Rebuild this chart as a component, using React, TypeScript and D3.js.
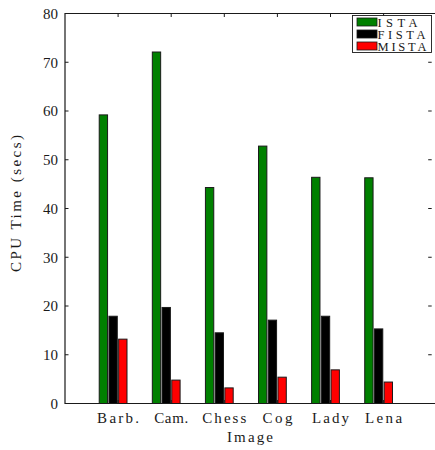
import React from "react";
import * as d3 from "d3";

const categories = ["Barb.", "Cam.", "Chess", "Cog", "Lady", "Lena"];
const categoryWidths = [42, 34, 44, 30, 37, 37];
const seriesNames = ["ISTA", "FISTA", "MISTA"];
const istaValues = [59.2, 72.1, 44.3, 52.8, 46.4, 46.3];
const fistaValues = [17.9, 19.7, 14.5, 17.1, 17.9, 15.3];
const mistaValues = [13.2, 4.8, 3.2, 5.4, 6.9, 4.4];
const seriesColors = ["#008000", "#000000", "#ff0000"];
const yTicks = [0, 10, 20, 30, 40, 50, 60, 70, 80];

const W = 435;
const H = 450;
const left = 65;
const right = 436.7;
const top = 13.5;
const bottom = 403.5;
const font = "'Liberation Serif', 'DejaVu Serif', serif";

export default function App() {
  const x = d3.scaleLinear().domain([0, 7]).range([left, right]);
  const y = d3.scaleLinear().domain([0, 80]).range([bottom, top]);
  const series = [istaValues, fistaValues, mistaValues];
  const barW = 0.157; // data units
  const step = 0.183;
  const groupShift = -0.094;
  const tickLen = 3.5;

  return (
    <svg
      width={W}
      height={H}
      style={{ position: "absolute", left: 0, top: 0, background: "#fff" }}
      fontFamily={font}
    >
      <rect x={0} y={0} width={W} height={H} fill="#fff" />
      {/* bars */}
      {series.map((vals, si) =>
        vals.map((v, ci) => {
          const cx = ci + 1 + groupShift + (si - 1) * step;
          const x0 = x(cx - barW / 2);
          const x1 = x(cx + barW / 2);
          return (
            <rect
              key={`${si}-${ci}`}
              x={x0}
              y={y(v)}
              width={x1 - x0}
              height={y(0) - y(v)}
              fill={seriesColors[si]}
              stroke="#1a1a1a"
              strokeWidth={1}
            />
          );
        })
      )}
      {/* axes box */}
      <path
        d={`M${right},${top}H${left}V${bottom}H${right}`}
        fill="none"
        stroke="#1a1a1a"
        strokeWidth={1.2}
      />
      {/* y ticks */}
      {yTicks.map((t) => (
        <g key={t}>
          <line x1={left} x2={left + tickLen} y1={y(t)} y2={y(t)} stroke="#1a1a1a" strokeWidth={1} />
          <line x1={right - 5} x2={right - 5 - tickLen} y1={y(t)} y2={y(t)} stroke="#1a1a1a" strokeWidth={1} />
          <text x={58} y={y(t)} dy="0.35em" textAnchor="end" fontSize={15} fill="#1a1a1a">
            {t}
          </text>
        </g>
      ))}
      {/* x ticks */}
      {categories.map((c, i) => (
        <g key={c}>
          <line x1={x(i + 1)} x2={x(i + 1)} y1={top} y2={top + tickLen} stroke="#1a1a1a" strokeWidth={1} />
          <line x1={x(i + 1)} x2={x(i + 1)} y1={bottom} y2={bottom - tickLen} stroke="#1a1a1a" strokeWidth={1} />
          <text
            x={x(i + 1) - categoryWidths[i] / 2}
            y={423}
            fontSize={15}
            fill="#1a1a1a"
            textLength={categoryWidths[i]}
            lengthAdjust="spacing"
          >
            {c}
          </text>
        </g>
      ))}
      {/* axis labels */}
      <text x={227} y={442} fontSize={15} fill="#1a1a1a" textLength={46} lengthAdjust="spacing">
        Image
      </text>
      <text
        transform={`translate(21,272) rotate(-90)`}
        fontSize={15}
        fill="#1a1a1a"
        textLength={137}
        lengthAdjust="spacing"
      >
        CPU Time (secs)
      </text>
      {/* legend */}
      <rect x={352.5} y={15.5} width={79} height={37} fill="#fff" stroke="#1a1a1a" strokeWidth={0.9} />
      {seriesNames.map((n, i) => {
        const cy = 22 + i * 12;
        const tl = [40, 48, 49][i];
        return (
          <g key={n}>
            <rect x={357} y={cy - 4} width={20} height={8} fill={seriesColors[i]} stroke="#1a1a1a" strokeWidth={0.8} />
            <text
              x={377.5}
              y={cy}
              dy="0.36em"
              fontSize={12.5}
              fill="#1a1a1a"
              textLength={tl}
              lengthAdjust="spacing"
            >
              {n}
            </text>
          </g>
        );
      })}
    </svg>
  );
}
